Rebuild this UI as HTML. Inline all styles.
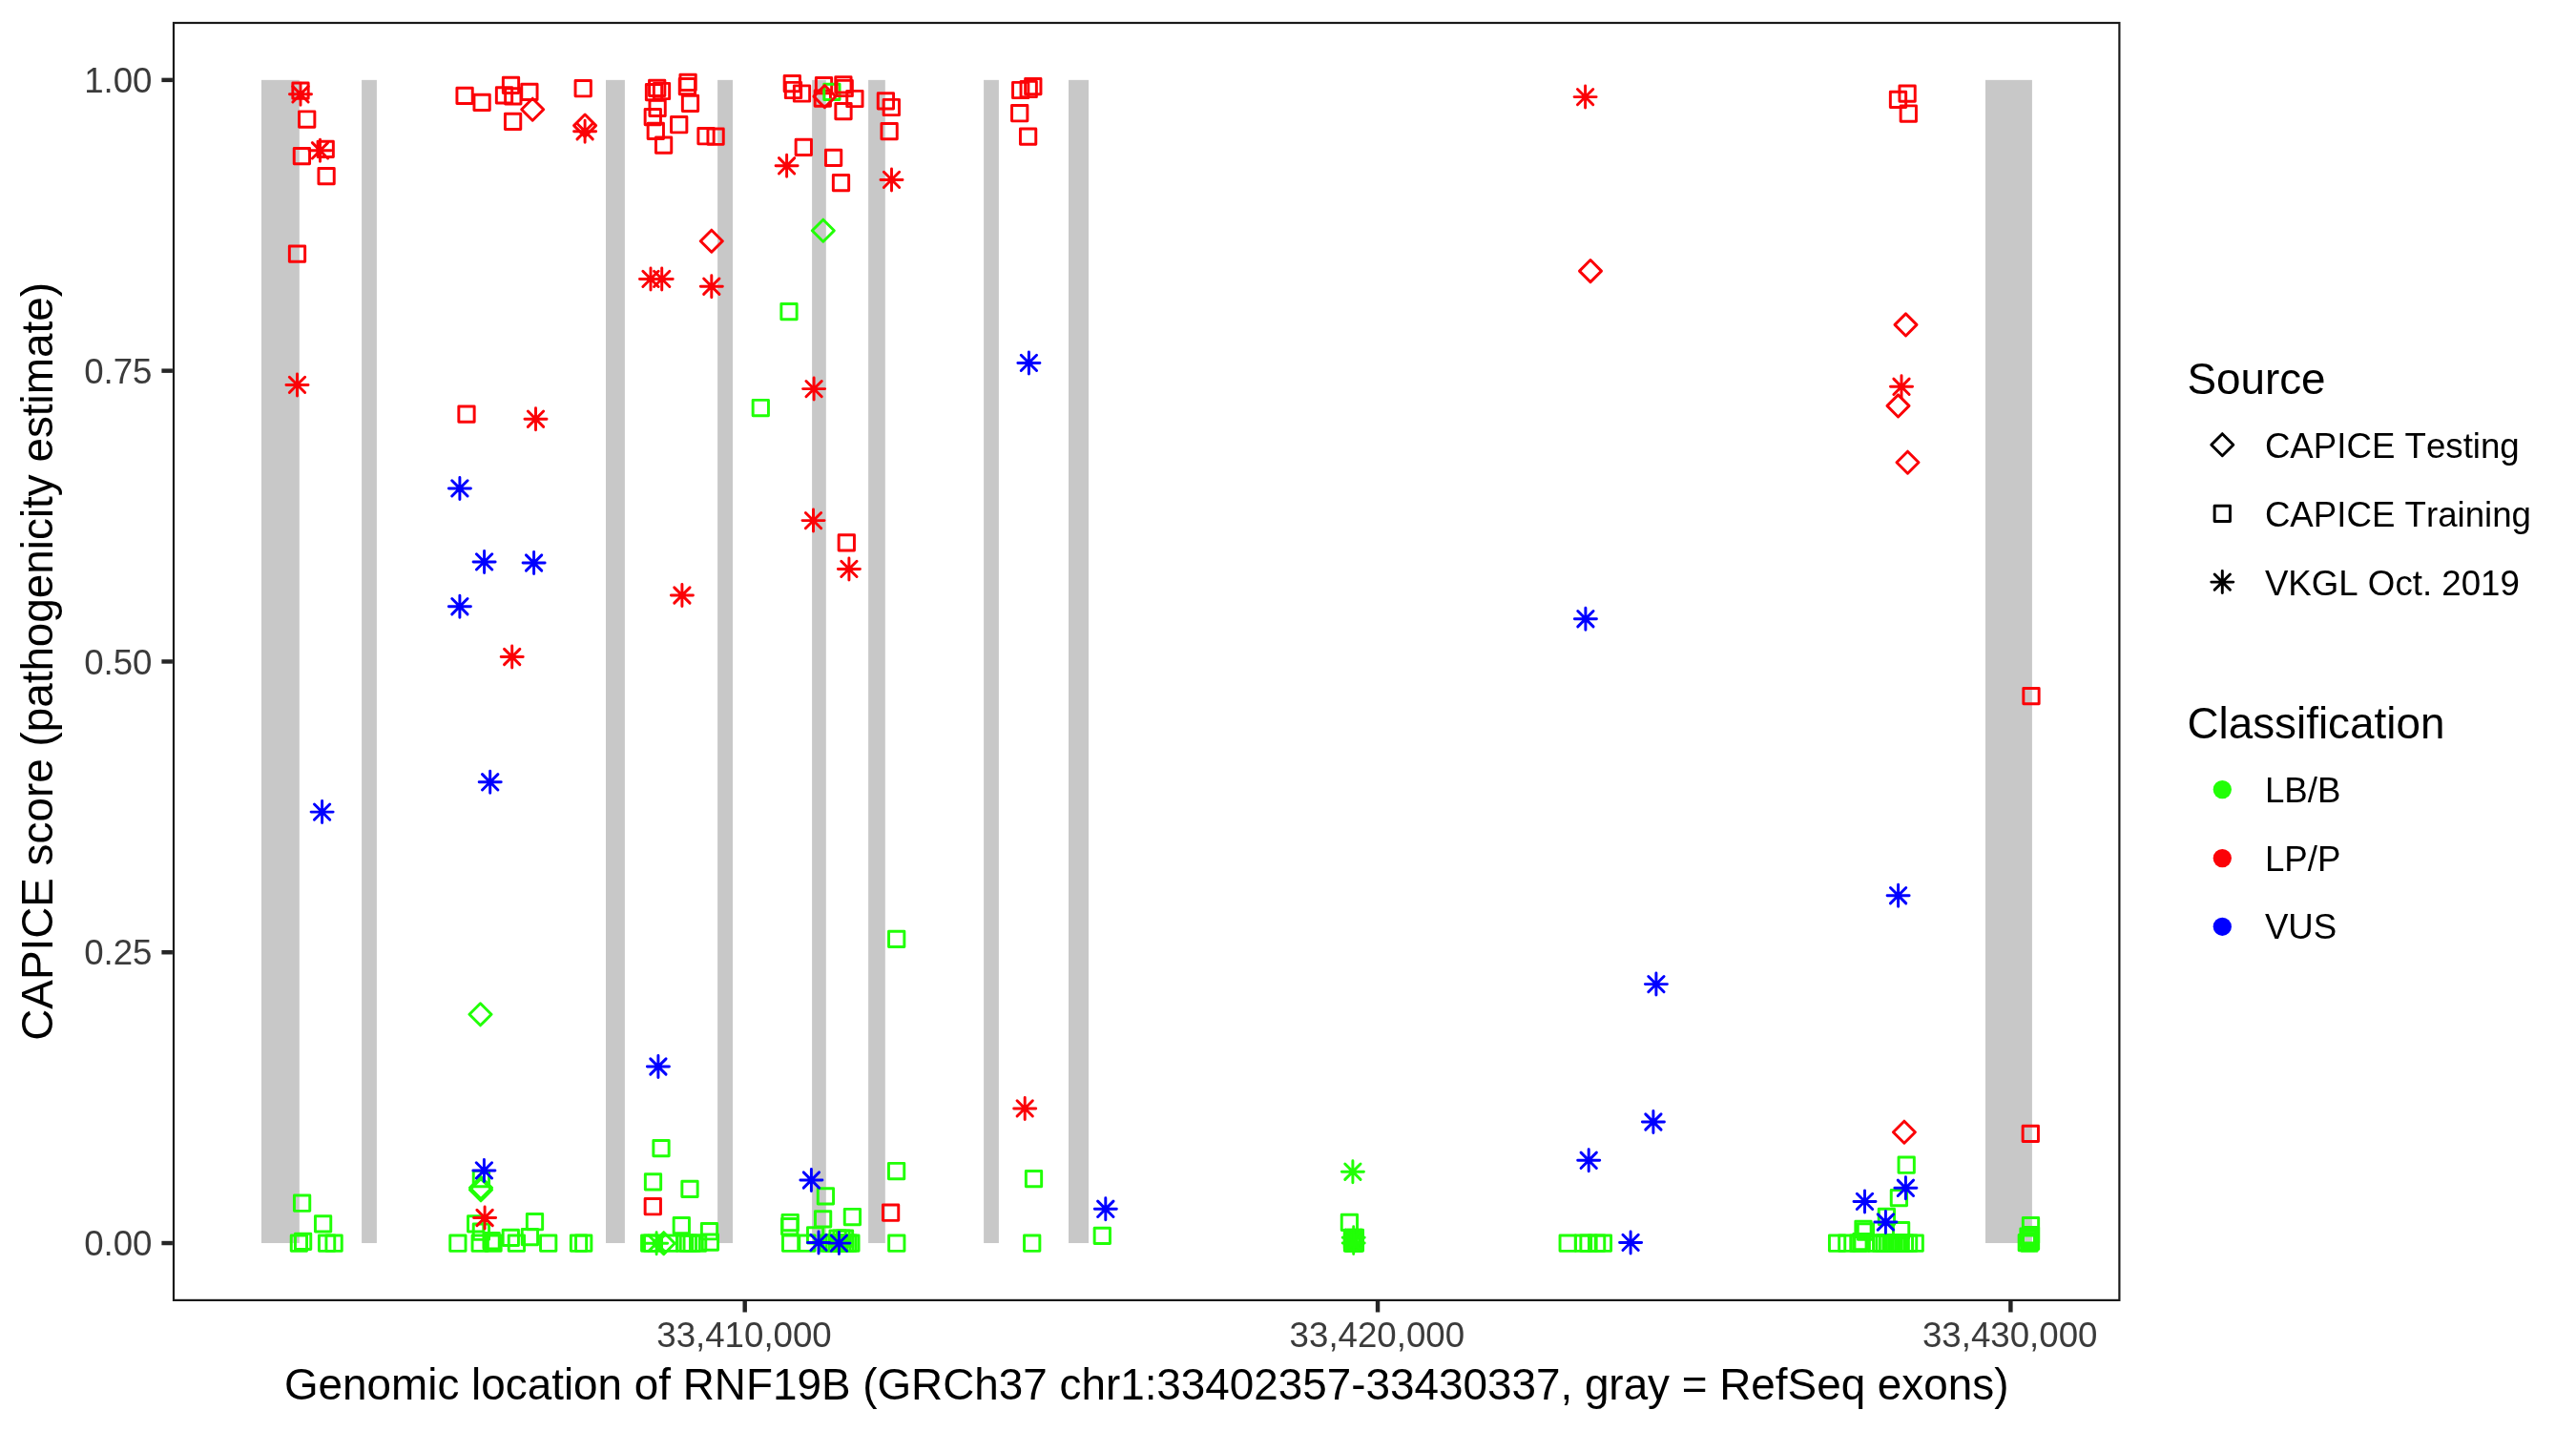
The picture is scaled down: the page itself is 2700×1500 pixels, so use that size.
<!DOCTYPE html>
<html lang="en"><head><meta charset="utf-8"><title>CAPICE score RNF19B</title>
<style>
html,body{margin:0;padding:0;background:#fff}
svg{display:block;will-change:transform}
text{font-family:"Liberation Sans",Arial,Helvetica,sans-serif;font-kerning:none}
.ax{font-size:36.67px;fill:#3b3b3b}
.tt{font-size:45.83px;fill:#000}
.lg{font-size:36.67px;fill:#000}
</style></head><body>
<svg width="2700" height="1500" viewBox="0 0 2700 1500">
<rect width="2700" height="1500" fill="#fff"/>
<g fill="#c8c8c8">
<rect x="274.0" y="83.86" width="39.8" height="1219.18"/>
<rect x="379.1" y="83.86" width="15.8" height="1219.18"/>
<rect x="635.0" y="83.86" width="19.9" height="1219.18"/>
<rect x="752.1" y="83.86" width="15.9" height="1219.18"/>
<rect x="851.1" y="83.86" width="14.7" height="1219.18"/>
<rect x="910.1" y="83.86" width="17.7" height="1219.18"/>
<rect x="1031.1" y="83.86" width="15.8" height="1219.18"/>
<rect x="1120.0" y="83.86" width="21.0" height="1219.18"/>
<rect x="2081.0" y="83.86" width="48.9" height="1219.18"/>
</g>
<g fill="none" stroke-width="2.95" stroke-linejoin="round" stroke-linecap="round">
<rect x="306.85" y="86.95" width="16.30" height="16.30" stroke="#fb0207"/>
<path d="M306.85 90.65L323.15 106.95M306.85 106.95L323.15 90.65M303.48 98.80L326.52 98.80M315.00 87.28L315.00 110.32" stroke="#fb0207"/>
<rect x="313.55" y="116.85" width="16.30" height="16.30" stroke="#fb0207"/>
<rect x="333.05" y="148.25" width="16.30" height="16.30" stroke="#fb0207"/>
<path d="M327.35 149.65L343.65 165.95M327.35 165.95L343.65 149.65M323.98 157.80L347.02 157.80M335.50 146.28L335.50 169.32" stroke="#fb0207"/>
<rect x="308.25" y="155.45" width="16.30" height="16.30" stroke="#fb0207"/>
<rect x="333.95" y="176.45" width="16.30" height="16.30" stroke="#fb0207"/>
<rect x="303.35" y="258.05" width="16.30" height="16.30" stroke="#fb0207"/>
<path d="M303.35 395.25L319.65 411.55M303.35 411.55L319.65 395.25M299.98 403.40L323.02 403.40M311.50 391.88L311.50 414.92" stroke="#fb0207"/>
<path d="M329.45 842.95L345.75 859.25M329.45 859.25L345.75 842.95M326.08 851.10L349.12 851.10M337.60 839.58L337.60 862.62" stroke="#0000ff"/>
<rect x="478.95" y="92.25" width="16.30" height="16.30" stroke="#fb0207"/>
<rect x="496.95" y="99.15" width="16.30" height="16.30" stroke="#fb0207"/>
<rect x="527.35" y="81.25" width="16.30" height="16.30" stroke="#fb0207"/>
<rect x="520.35" y="91.65" width="16.30" height="16.30" stroke="#fb0207"/>
<rect x="529.65" y="92.75" width="16.30" height="16.30" stroke="#fb0207"/>
<rect x="546.75" y="88.15" width="16.30" height="16.30" stroke="#fb0207"/>
<path d="M546.68 114.70L558.20 103.18L569.72 114.70L558.20 126.22Z" stroke="#fb0207"/>
<rect x="529.45" y="119.25" width="16.30" height="16.30" stroke="#fb0207"/>
<rect x="603.05" y="84.55" width="16.30" height="16.30" stroke="#fb0207"/>
<path d="M601.58 131.60L613.10 120.08L624.62 131.60L613.10 143.12Z" stroke="#fb0207"/>
<path d="M604.95 129.55L621.25 145.85M604.95 145.85L621.25 129.55M601.58 137.70L624.62 137.70M613.10 126.18L613.10 149.22" stroke="#fb0207"/>
<rect x="480.85" y="426.05" width="16.30" height="16.30" stroke="#fb0207"/>
<path d="M553.35 431.05L569.65 447.35M553.35 447.35L569.65 431.05M549.98 439.20L573.02 439.20M561.50 427.68L561.50 450.72" stroke="#fb0207"/>
<path d="M473.75 503.75L490.05 520.05M473.75 520.05L490.05 503.75M470.38 511.90L493.42 511.90M481.90 500.38L481.90 523.42" stroke="#0000ff"/>
<path d="M499.45 580.75L515.75 597.05M499.45 597.05L515.75 580.75M496.08 588.90L519.12 588.90M507.60 577.38L507.60 600.42" stroke="#0000ff"/>
<path d="M551.45 581.85L567.75 598.15M551.45 598.15L567.75 581.85M548.08 590.00L571.12 590.00M559.60 578.48L559.60 601.52" stroke="#0000ff"/>
<path d="M473.75 627.55L490.05 643.85M473.75 643.85L490.05 627.55M470.38 635.70L493.42 635.70M481.90 624.18L481.90 647.22" stroke="#0000ff"/>
<path d="M528.55 680.35L544.85 696.65M528.55 696.65L544.85 680.35M525.18 688.50L548.22 688.50M536.70 676.98L536.70 700.02" stroke="#fb0207"/>
<path d="M505.55 811.65L521.85 827.95M505.55 827.95L521.85 811.65M502.18 819.80L525.22 819.80M513.70 808.28L513.70 831.32" stroke="#0000ff"/>
<rect x="680.55" y="84.25" width="16.30" height="16.30" stroke="#fb0207"/>
<rect x="677.35" y="88.45" width="16.30" height="16.30" stroke="#fb0207"/>
<rect x="685.35" y="87.35" width="16.30" height="16.30" stroke="#fb0207"/>
<rect x="680.95" y="105.15" width="16.30" height="16.30" stroke="#fb0207"/>
<rect x="676.15" y="114.45" width="16.30" height="16.30" stroke="#fb0207"/>
<rect x="679.15" y="129.25" width="16.30" height="16.30" stroke="#fb0207"/>
<rect x="687.45" y="143.95" width="16.30" height="16.30" stroke="#fb0207"/>
<rect x="703.55" y="122.55" width="16.30" height="16.30" stroke="#fb0207"/>
<rect x="712.95" y="78.25" width="16.30" height="16.30" stroke="#fb0207"/>
<rect x="712.25" y="82.45" width="16.30" height="16.30" stroke="#fb0207"/>
<rect x="715.35" y="100.25" width="16.30" height="16.30" stroke="#fb0207"/>
<rect x="731.85" y="134.55" width="16.30" height="16.30" stroke="#fb0207"/>
<rect x="741.95" y="135.05" width="16.30" height="16.30" stroke="#fb0207"/>
<path d="M673.85 284.25L690.15 300.55M673.85 300.55L690.15 284.25M670.48 292.40L693.52 292.40M682.00 280.88L682.00 303.92" stroke="#fb0207"/>
<path d="M685.55 284.25L701.85 300.55M685.55 300.55L701.85 284.25M682.18 292.40L705.22 292.40M693.70 280.88L693.70 303.92" stroke="#fb0207"/>
<path d="M737.65 292.05L753.95 308.35M737.65 308.35L753.95 292.05M734.28 300.20L757.32 300.20M745.80 288.68L745.80 311.72" stroke="#fb0207"/>
<path d="M734.28 252.70L745.80 241.18L757.32 252.70L745.80 264.22Z" stroke="#fb0207"/>
<path d="M706.75 615.85L723.05 632.15M706.75 632.15L723.05 615.85M703.38 624.00L726.42 624.00M714.90 612.48L714.90 635.52" stroke="#fb0207"/>
<rect x="822.15" y="79.45" width="16.30" height="16.30" stroke="#fb0207"/>
<rect x="823.35" y="86.35" width="16.30" height="16.30" stroke="#fb0207"/>
<rect x="832.35" y="89.85" width="16.30" height="16.30" stroke="#fb0207"/>
<rect x="855.35" y="81.45" width="16.30" height="16.30" stroke="#fb0207"/>
<rect x="854.15" y="94.95" width="16.30" height="16.30" stroke="#fb0207"/>
<rect x="863.75" y="88.25" width="16.30" height="16.30" stroke="#21ff06"/>
<path d="M852.88 101.10L864.40 89.58L875.92 101.10L864.40 112.62Z" stroke="#fb0207"/>
<rect x="875.75" y="80.65" width="16.30" height="16.30" stroke="#fb0207"/>
<rect x="877.05" y="84.35" width="16.30" height="16.30" stroke="#fb0207"/>
<rect x="887.75" y="95.35" width="16.30" height="16.30" stroke="#fb0207"/>
<rect x="875.85" y="108.45" width="16.30" height="16.30" stroke="#fb0207"/>
<rect x="920.25" y="97.75" width="16.30" height="16.30" stroke="#fb0207"/>
<rect x="926.15" y="104.35" width="16.30" height="16.30" stroke="#fb0207"/>
<rect x="923.95" y="129.45" width="16.30" height="16.30" stroke="#fb0207"/>
<rect x="834.15" y="146.25" width="16.30" height="16.30" stroke="#fb0207"/>
<rect x="865.45" y="157.15" width="16.30" height="16.30" stroke="#fb0207"/>
<rect x="873.35" y="183.45" width="16.30" height="16.30" stroke="#fb0207"/>
<path d="M816.45 165.65L832.75 181.95M816.45 181.95L832.75 165.65M813.08 173.80L836.12 173.80M824.60 162.28L824.60 185.32" stroke="#fb0207"/>
<path d="M926.35 180.25L942.65 196.55M926.35 196.55L942.65 180.25M922.98 188.40L946.02 188.40M934.50 176.88L934.50 199.92" stroke="#fb0207"/>
<path d="M851.28 241.70L862.80 230.18L874.32 241.70L862.80 253.22Z" stroke="#21ff06"/>
<rect x="818.85" y="318.55" width="16.30" height="16.30" stroke="#21ff06"/>
<rect x="789.15" y="419.35" width="16.30" height="16.30" stroke="#21ff06"/>
<path d="M844.95 399.45L861.25 415.75M844.95 415.75L861.25 399.45M841.58 407.60L864.62 407.60M853.10 396.08L853.10 419.12" stroke="#fb0207"/>
<path d="M844.35 537.45L860.65 553.75M844.35 553.75L860.65 537.45M840.98 545.60L864.02 545.60M852.50 534.08L852.50 557.12" stroke="#fb0207"/>
<rect x="879.15" y="560.65" width="16.30" height="16.30" stroke="#fb0207"/>
<path d="M881.75 588.25L898.05 604.55M881.75 604.55L898.05 588.25M878.38 596.40L901.42 596.40M889.90 584.88L889.90 607.92" stroke="#fb0207"/>
<rect x="931.55" y="976.25" width="16.30" height="16.30" stroke="#21ff06"/>
<rect x="1061.55" y="86.35" width="16.30" height="16.30" stroke="#fb0207"/>
<rect x="1070.05" y="85.35" width="16.30" height="16.30" stroke="#fb0207"/>
<rect x="1074.65" y="82.45" width="16.30" height="16.30" stroke="#fb0207"/>
<rect x="1060.55" y="110.55" width="16.30" height="16.30" stroke="#fb0207"/>
<rect x="1069.45" y="134.95" width="16.30" height="16.30" stroke="#fb0207"/>
<path d="M1070.25 372.25L1086.55 388.55M1070.25 388.55L1086.55 372.25M1066.88 380.40L1089.92 380.40M1078.40 368.88L1078.40 391.92" stroke="#0000ff"/>
<path d="M1653.45 93.45L1669.75 109.75M1653.45 109.75L1669.75 93.45M1650.08 101.60L1673.12 101.60M1661.60 90.08L1661.60 113.12" stroke="#fb0207"/>
<path d="M1655.48 284.10L1667.00 272.58L1678.52 284.10L1667.00 295.62Z" stroke="#fb0207"/>
<rect x="1990.95" y="89.95" width="16.30" height="16.30" stroke="#fb0207"/>
<rect x="1981.35" y="96.25" width="16.30" height="16.30" stroke="#fb0207"/>
<rect x="1992.15" y="110.85" width="16.30" height="16.30" stroke="#fb0207"/>
<path d="M1985.98 340.40L1997.50 328.88L2009.02 340.40L1997.50 351.92Z" stroke="#fb0207"/>
<path d="M1984.85 397.15L2001.15 413.45M1984.85 413.45L2001.15 397.15M1981.48 405.30L2004.52 405.30M1993.00 393.78L1993.00 416.82" stroke="#fb0207"/>
<path d="M1977.98 425.40L1989.50 413.88L2001.02 425.40L1989.50 436.92Z" stroke="#fb0207"/>
<path d="M1987.98 484.70L1999.50 473.18L2011.02 484.70L1999.50 496.22Z" stroke="#fb0207"/>
<path d="M1653.75 640.55L1670.05 656.85M1653.75 656.85L1670.05 640.55M1650.38 648.70L1673.42 648.70M1661.90 637.18L1661.90 660.22" stroke="#0000ff"/>
<rect x="2120.85" y="721.45" width="16.30" height="16.30" stroke="#fb0207"/>
<path d="M1981.45 930.55L1997.75 946.85M1981.45 946.85L1997.75 930.55M1978.08 938.70L2001.12 938.70M1989.60 927.18L1989.60 950.22" stroke="#0000ff"/>
<path d="M1727.75 1023.45L1744.05 1039.75M1727.75 1039.75L1744.05 1023.45M1724.38 1031.60L1747.42 1031.60M1735.90 1020.08L1735.90 1043.12" stroke="#0000ff"/>
<path d="M1724.75 1167.85L1741.05 1184.15M1724.75 1184.15L1741.05 1167.85M1721.38 1176.00L1744.42 1176.00M1732.90 1164.48L1732.90 1187.52" stroke="#0000ff"/>
<rect x="308.45" y="1253.05" width="16.30" height="16.30" stroke="#21ff06"/>
<rect x="330.45" y="1274.75" width="16.30" height="16.30" stroke="#21ff06"/>
<rect x="305.25" y="1295.05" width="16.30" height="16.30" stroke="#21ff06"/>
<rect x="309.45" y="1293.25" width="16.30" height="16.30" stroke="#21ff06"/>
<rect x="334.45" y="1295.05" width="16.30" height="16.30" stroke="#21ff06"/>
<rect x="341.95" y="1295.05" width="16.30" height="16.30" stroke="#21ff06"/>
<path d="M491.98 1063.30L503.50 1051.78L515.02 1063.30L503.50 1074.82Z" stroke="#21ff06"/>
<rect x="496.25" y="1227.35" width="16.30" height="16.30" stroke="#21ff06"/>
<path d="M492.48 1245.00L504.00 1233.48L515.52 1245.00L504.00 1256.52Z" stroke="#21ff06"/>
<path d="M492.48 1247.30L504.00 1235.78L515.52 1247.30L504.00 1258.82Z" stroke="#21ff06"/>
<path d="M499.25 1218.75L515.55 1235.05M499.25 1235.05L515.55 1218.75M495.88 1226.90L518.92 1226.90M507.40 1215.38L507.40 1238.42" stroke="#0000ff"/>
<rect x="490.55" y="1274.75" width="16.30" height="16.30" stroke="#21ff06"/>
<rect x="496.25" y="1283.05" width="16.30" height="16.30" stroke="#21ff06"/>
<path d="M499.95 1268.35L516.25 1284.65M499.95 1284.65L516.25 1268.35M496.58 1276.50L519.62 1276.50M508.10 1264.98L508.10 1288.02" stroke="#fb0207"/>
<rect x="552.35" y="1272.55" width="16.30" height="16.30" stroke="#21ff06"/>
<rect x="527.15" y="1289.15" width="16.30" height="16.30" stroke="#21ff06"/>
<rect x="547.25" y="1288.45" width="16.30" height="16.30" stroke="#21ff06"/>
<rect x="471.75" y="1295.05" width="16.30" height="16.30" stroke="#21ff06"/>
<rect x="495.05" y="1295.05" width="16.30" height="16.30" stroke="#21ff06"/>
<rect x="508.85" y="1295.05" width="16.30" height="16.30" stroke="#21ff06"/>
<rect x="533.25" y="1295.05" width="16.30" height="16.30" stroke="#21ff06"/>
<rect x="566.55" y="1295.05" width="16.30" height="16.30" stroke="#21ff06"/>
<rect x="598.35" y="1295.05" width="16.30" height="16.30" stroke="#21ff06"/>
<rect x="603.55" y="1295.05" width="16.30" height="16.30" stroke="#21ff06"/>
<rect x="506.95" y="1292.55" width="16.30" height="16.30" stroke="#21ff06"/>
<path d="M681.75 1109.85L698.05 1126.15M681.75 1126.15L698.05 1109.85M678.38 1118.00L701.42 1118.00M689.90 1106.48L689.90 1129.52" stroke="#0000ff"/>
<rect x="684.85" y="1195.45" width="16.30" height="16.30" stroke="#21ff06"/>
<rect x="676.35" y="1230.75" width="16.30" height="16.30" stroke="#21ff06"/>
<rect x="714.85" y="1238.25" width="16.30" height="16.30" stroke="#21ff06"/>
<rect x="676.15" y="1256.55" width="16.30" height="16.30" stroke="#fb0207"/>
<rect x="706.15" y="1276.45" width="16.30" height="16.30" stroke="#21ff06"/>
<rect x="735.35" y="1282.55" width="16.30" height="16.30" stroke="#21ff06"/>
<rect x="672.55" y="1295.05" width="16.30" height="16.30" stroke="#21ff06"/>
<rect x="675.45" y="1295.05" width="16.30" height="16.30" stroke="#21ff06"/>
<rect x="693.55" y="1295.05" width="16.30" height="16.30" stroke="#21ff06"/>
<rect x="709.45" y="1295.05" width="16.30" height="16.30" stroke="#21ff06"/>
<rect x="713.25" y="1295.05" width="16.30" height="16.30" stroke="#21ff06"/>
<rect x="717.05" y="1295.05" width="16.30" height="16.30" stroke="#21ff06"/>
<rect x="723.45" y="1295.05" width="16.30" height="16.30" stroke="#21ff06"/>
<rect x="736.25" y="1293.95" width="16.30" height="16.30" stroke="#21ff06"/>
<path d="M679.95 1295.05L696.25 1311.35M679.95 1311.35L696.25 1295.05M676.58 1303.20L699.62 1303.20M688.10 1291.68L688.10 1314.72" stroke="#21ff06"/>
<path d="M684.18 1303.20L695.70 1291.68L707.22 1303.20L695.70 1314.72Z" stroke="#21ff06"/>
<rect x="857.25" y="1245.65" width="16.30" height="16.30" stroke="#21ff06"/>
<rect x="931.45" y="1219.35" width="16.30" height="16.30" stroke="#21ff06"/>
<rect x="925.45" y="1263.05" width="16.30" height="16.30" stroke="#fb0207"/>
<rect x="885.25" y="1267.35" width="16.30" height="16.30" stroke="#21ff06"/>
<rect x="854.45" y="1269.75" width="16.30" height="16.30" stroke="#21ff06"/>
<rect x="820.05" y="1273.35" width="16.30" height="16.30" stroke="#21ff06"/>
<rect x="819.55" y="1277.55" width="16.30" height="16.30" stroke="#21ff06"/>
<rect x="846.45" y="1286.65" width="16.30" height="16.30" stroke="#21ff06"/>
<rect x="820.45" y="1295.05" width="16.30" height="16.30" stroke="#21ff06"/>
<rect x="837.75" y="1295.05" width="16.30" height="16.30" stroke="#21ff06"/>
<rect x="859.85" y="1295.05" width="16.30" height="16.30" stroke="#21ff06"/>
<rect x="862.85" y="1295.05" width="16.30" height="16.30" stroke="#21ff06"/>
<rect x="865.85" y="1295.05" width="16.30" height="16.30" stroke="#21ff06"/>
<rect x="868.85" y="1295.05" width="16.30" height="16.30" stroke="#21ff06"/>
<rect x="871.85" y="1295.05" width="16.30" height="16.30" stroke="#21ff06"/>
<rect x="874.85" y="1295.05" width="16.30" height="16.30" stroke="#21ff06"/>
<rect x="877.85" y="1295.05" width="16.30" height="16.30" stroke="#21ff06"/>
<rect x="880.85" y="1295.05" width="16.30" height="16.30" stroke="#21ff06"/>
<rect x="883.75" y="1295.05" width="16.30" height="16.30" stroke="#21ff06"/>
<rect x="869.95" y="1289.95" width="16.30" height="16.30" stroke="#21ff06"/>
<rect x="873.85" y="1289.95" width="16.30" height="16.30" stroke="#21ff06"/>
<rect x="877.35" y="1289.95" width="16.30" height="16.30" stroke="#21ff06"/>
<rect x="931.65" y="1295.05" width="16.30" height="16.30" stroke="#21ff06"/>
<path d="M842.25 1228.85L858.55 1245.15M842.25 1245.15L858.55 1228.85M838.88 1237.00L861.92 1237.00M850.40 1225.48L850.40 1248.52" stroke="#0000ff"/>
<path d="M849.85 1294.25L866.15 1310.55M849.85 1310.55L866.15 1294.25M846.48 1302.40L869.52 1302.40M858.00 1290.88L858.00 1313.92" stroke="#0000ff"/>
<path d="M871.25 1294.95L887.55 1311.25M871.25 1311.25L887.55 1294.95M867.88 1303.10L890.92 1303.10M879.40 1291.58L879.40 1314.62" stroke="#0000ff"/>
<path d="M1066.05 1153.75L1082.35 1170.05M1066.05 1170.05L1082.35 1153.75M1062.68 1161.90L1085.72 1161.90M1074.20 1150.38L1074.20 1173.42" stroke="#fb0207"/>
<rect x="1075.35" y="1227.45" width="16.30" height="16.30" stroke="#21ff06"/>
<rect x="1073.55" y="1295.05" width="16.30" height="16.30" stroke="#21ff06"/>
<path d="M1150.65 1259.15L1166.95 1275.45M1150.65 1275.45L1166.95 1259.15M1147.28 1267.30L1170.32 1267.30M1158.80 1255.78L1158.80 1278.82" stroke="#0000ff"/>
<rect x="1147.15" y="1287.15" width="16.30" height="16.30" stroke="#21ff06"/>
<path d="M1409.75 1220.05L1426.05 1236.35M1409.75 1236.35L1426.05 1220.05M1406.38 1228.20L1429.42 1228.20M1417.90 1216.68L1417.90 1239.72" stroke="#21ff06"/>
<rect x="1406.25" y="1273.15" width="16.30" height="16.30" stroke="#21ff06"/>
<rect x="1409.35" y="1289.15" width="16.30" height="16.30" stroke="#21ff06"/>
<rect x="1412.25" y="1289.15" width="16.30" height="16.30" stroke="#21ff06"/>
<rect x="1410.85" y="1290.85" width="16.30" height="16.30" stroke="#21ff06"/>
<rect x="1409.35" y="1292.05" width="16.30" height="16.30" stroke="#21ff06"/>
<rect x="1412.25" y="1293.35" width="16.30" height="16.30" stroke="#21ff06"/>
<rect x="1410.85" y="1293.85" width="16.30" height="16.30" stroke="#21ff06"/>
<rect x="1409.35" y="1295.05" width="16.30" height="16.30" stroke="#21ff06"/>
<rect x="1412.25" y="1295.05" width="16.30" height="16.30" stroke="#21ff06"/>
<rect x="1410.85" y="1295.05" width="16.30" height="16.30" stroke="#21ff06"/>
<path d="M1410.55 1289.15L1426.85 1305.45M1410.55 1305.45L1426.85 1289.15M1407.18 1297.30L1430.22 1297.30M1418.70 1285.78L1418.70 1308.82" stroke="#21ff06"/>
<path d="M1410.55 1294.75L1426.85 1311.05M1410.55 1311.05L1426.85 1294.75M1407.18 1302.90L1430.22 1302.90M1418.70 1291.38L1418.70 1314.42" stroke="#21ff06"/>
<rect x="1635.05" y="1295.05" width="16.30" height="16.30" stroke="#21ff06"/>
<rect x="1651.35" y="1295.05" width="16.30" height="16.30" stroke="#21ff06"/>
<rect x="1656.85" y="1295.05" width="16.30" height="16.30" stroke="#21ff06"/>
<rect x="1665.45" y="1295.05" width="16.30" height="16.30" stroke="#21ff06"/>
<rect x="1672.25" y="1295.05" width="16.30" height="16.30" stroke="#21ff06"/>
<path d="M1657.05 1208.15L1673.35 1224.45M1657.05 1224.45L1673.35 1208.15M1653.68 1216.30L1676.72 1216.30M1665.20 1204.78L1665.20 1227.82" stroke="#0000ff"/>
<path d="M1700.95 1294.25L1717.25 1310.55M1700.95 1310.55L1717.25 1294.25M1697.58 1302.40L1720.62 1302.40M1709.10 1290.88L1709.10 1313.92" stroke="#0000ff"/>
<path d="M1984.38 1186.70L1995.90 1175.18L2007.42 1186.70L1995.90 1198.22Z" stroke="#fb0207"/>
<rect x="1990.05" y="1213.05" width="16.30" height="16.30" stroke="#21ff06"/>
<rect x="1982.25" y="1247.45" width="16.30" height="16.30" stroke="#21ff06"/>
<rect x="1969.25" y="1267.25" width="16.30" height="16.30" stroke="#21ff06"/>
<rect x="1944.85" y="1280.15" width="16.30" height="16.30" stroke="#21ff06"/>
<rect x="1947.25" y="1282.85" width="16.30" height="16.30" stroke="#21ff06"/>
<rect x="1984.45" y="1281.45" width="16.30" height="16.30" stroke="#21ff06"/>
<rect x="1942.85" y="1293.35" width="16.30" height="16.30" stroke="#21ff06"/>
<rect x="1917.45" y="1295.05" width="16.30" height="16.30" stroke="#21ff06"/>
<rect x="1927.65" y="1295.05" width="16.30" height="16.30" stroke="#21ff06"/>
<rect x="1939.75" y="1295.05" width="16.30" height="16.30" stroke="#21ff06"/>
<rect x="1942.85" y="1295.05" width="16.30" height="16.30" stroke="#21ff06"/>
<rect x="1958.35" y="1295.05" width="16.30" height="16.30" stroke="#21ff06"/>
<rect x="1963.55" y="1295.05" width="16.30" height="16.30" stroke="#21ff06"/>
<rect x="1966.85" y="1295.05" width="16.30" height="16.30" stroke="#21ff06"/>
<rect x="1970.35" y="1295.05" width="16.30" height="16.30" stroke="#21ff06"/>
<rect x="1973.85" y="1295.05" width="16.30" height="16.30" stroke="#21ff06"/>
<rect x="1976.85" y="1295.05" width="16.30" height="16.30" stroke="#21ff06"/>
<rect x="1979.65" y="1295.05" width="16.30" height="16.30" stroke="#21ff06"/>
<rect x="1981.85" y="1295.05" width="16.30" height="16.30" stroke="#21ff06"/>
<rect x="1984.05" y="1295.05" width="16.30" height="16.30" stroke="#21ff06"/>
<rect x="1988.25" y="1295.05" width="16.30" height="16.30" stroke="#21ff06"/>
<rect x="1992.45" y="1295.05" width="16.30" height="16.30" stroke="#21ff06"/>
<rect x="1999.05" y="1295.05" width="16.30" height="16.30" stroke="#21ff06"/>
<path d="M1989.25 1237.15L2005.55 1253.45M1989.25 1253.45L2005.55 1237.15M1985.88 1245.30L2008.92 1245.30M1997.40 1233.78L1997.40 1256.82" stroke="#0000ff"/>
<path d="M1946.35 1251.25L1962.65 1267.55M1946.35 1267.55L1962.65 1251.25M1942.98 1259.40L1966.02 1259.40M1954.50 1247.88L1954.50 1270.92" stroke="#0000ff"/>
<path d="M1968.25 1272.85L1984.55 1289.15M1968.25 1289.15L1984.55 1272.85M1964.88 1281.00L1987.92 1281.00M1976.40 1269.48L1976.40 1292.52" stroke="#0000ff"/>
<rect x="2120.15" y="1180.25" width="16.30" height="16.30" stroke="#fb0207"/>
<rect x="2120.35" y="1276.45" width="16.30" height="16.30" stroke="#21ff06"/>
<rect x="2120.35" y="1286.55" width="16.30" height="16.30" stroke="#21ff06"/>
<rect x="2118.65" y="1290.25" width="16.30" height="16.30" stroke="#21ff06"/>
<rect x="2117.85" y="1287.85" width="16.30" height="16.30" stroke="#21ff06"/>
<rect x="2116.15" y="1294.45" width="16.30" height="16.30" stroke="#21ff06"/>
<rect x="2120.35" y="1293.25" width="16.30" height="16.30" stroke="#21ff06"/>
<rect x="2118.85" y="1295.05" width="16.30" height="16.30" stroke="#21ff06"/>
</g>
<rect x="182.0" y="24.0" width="2039.4" height="1338.9" fill="none" stroke="#1a1a1a" stroke-width="2.2"/>
<g stroke="#262626" stroke-width="4.45">
<line x1="169.4" x2="180.9" y1="1303.04" y2="1303.04"/>
<line x1="169.4" x2="180.9" y1="998.24" y2="998.24"/>
<line x1="169.4" x2="180.9" y1="693.45" y2="693.45"/>
<line x1="169.4" x2="180.9" y1="388.65" y2="388.65"/>
<line x1="169.4" x2="180.9" y1="83.86" y2="83.86"/>
<line x1="780.7" x2="780.7" y1="1364.0" y2="1375.5"/>
<line x1="1444.05" x2="1444.05" y1="1364.0" y2="1375.5"/>
<line x1="2107.4" x2="2107.4" y1="1364.0" y2="1375.5"/>
</g>
<text class="ax" x="159.5" y="1316.24" text-anchor="end">0.00</text>
<text class="ax" x="159.5" y="1011.44" text-anchor="end">0.25</text>
<text class="ax" x="159.5" y="706.65" text-anchor="end">0.50</text>
<text class="ax" x="159.5" y="401.85" text-anchor="end">0.75</text>
<text class="ax" x="159.5" y="97.06" text-anchor="end">1.00</text>
<text class="ax" x="780.00" y="1411.7" text-anchor="middle">33,410,000</text>
<text class="ax" x="1443.35" y="1411.7" text-anchor="middle">33,420,000</text>
<text class="ax" x="2106.70" y="1411.7" text-anchor="middle">33,430,000</text>
<text class="tt" x="1201.7" y="1466.6" text-anchor="middle">Genomic location of RNF19B (GRCh37 chr1:33402357-33430337, gray = RefSeq exons)</text>
<text class="tt" transform="translate(54.8 693.4) rotate(-90)" text-anchor="middle">CAPICE score (pathogenicity estimate)</text>
<text class="tt" x="2292.4" y="413.3">Source</text>
<g fill="none" stroke-width="2.95" stroke-linejoin="round" stroke-linecap="round">
<path d="M2317.78 466.20L2329.30 454.68L2340.82 466.20L2329.30 477.72Z" stroke="#000"/>
<rect x="2321.15" y="530.25" width="16.30" height="16.30" stroke="#000"/>
<path d="M2321.15 601.95L2337.45 618.25M2321.15 618.25L2337.45 601.95M2317.78 610.10L2340.82 610.10M2329.30 598.58L2329.30 621.62" stroke="#000"/>
</g>
<text class="lg" x="2373.9" y="480.2">CAPICE Testing</text>
<text class="lg" x="2373.9" y="552.2">CAPICE Training</text>
<text class="lg" x="2373.9" y="623.9">VKGL Oct. 2019</text>
<text class="tt" x="2292.4" y="774.1">Classification</text>
<circle cx="2329.3" cy="827.6" r="9.65" fill="#21ff06"/>
<circle cx="2329.3" cy="899.6" r="9.65" fill="#fb0207"/>
<circle cx="2329.3" cy="971.3" r="9.65" fill="#0000ff"/>
<text class="lg" x="2373.9" y="840.9">LB/B</text>
<text class="lg" x="2373.9" y="912.6">LP/P</text>
<text class="lg" x="2373.9" y="984.4">VUS</text>
</svg></body></html>
